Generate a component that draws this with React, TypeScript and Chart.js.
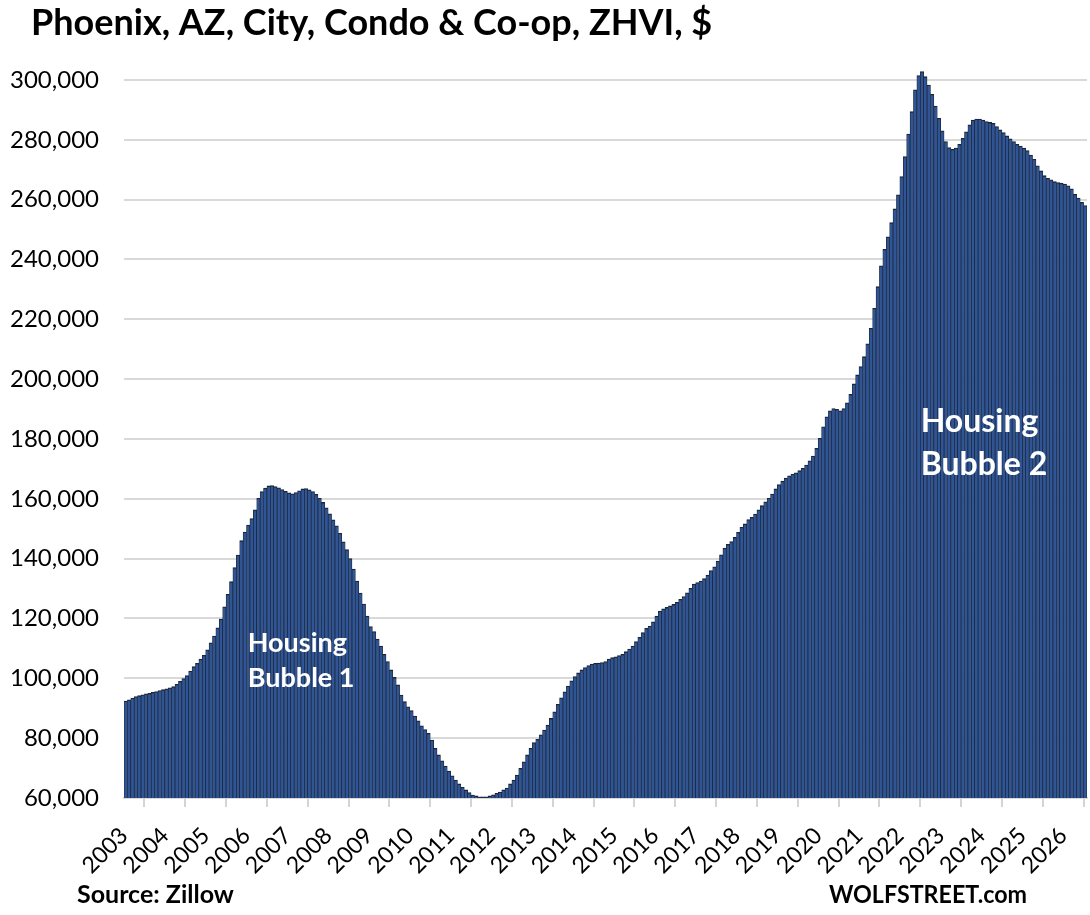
import React, { useEffect, useRef } from 'react';
import { Chart, registerables } from 'chart.js';

Chart.register(...registerables);

// ---------- text ----------
const TITLE = 'Phoenix, AZ, City, Condo & Co-op, ZHVI, $';
const SOURCE = 'Source: Zillow';
const BRAND = 'WOLFSTREET.com';
const bubble1Lines = ['Housing', 'Bubble 1'];
const bubble2Lines = ['Housing', 'Bubble 2'];

// ---------- data: monthly ZHVI ($), Jan 2003 .. Jul 2026 ----------
const FIRST_YEAR = 2003;
const zhvi2003 = [92400, 92800, 93400, 93900, 94200, 94500, 94800, 95000, 95300, 95600, 95900, 96200];
const zhvi2004 = [96500, 96800, 97200, 98000, 99000, 99900, 100900, 102400, 103900, 105000, 106400, 107700];
const zhvi2005 = [109500, 111900, 114100, 116900, 119800, 123900, 128100, 132300, 137000, 141200, 146000, 148900];
const zhvi2006 = [151200, 153400, 156300, 160200, 162400, 163600, 164300, 164400, 164100, 163700, 163100, 162500];
const zhvi2007 = [162000, 161700, 162100, 162700, 163300, 163400, 163000, 162400, 161500, 160200, 158800, 157000];
const zhvi2008 = [155000, 153000, 151000, 148500, 145600, 143000, 140000, 136500, 132500, 128500, 124800, 120800];
const zhvi2009 = [117300, 115600, 113100, 110800, 108000, 105600, 102800, 100300, 97800, 94400, 92200, 90500];
const zhvi2010 = [89200, 87400, 85800, 84100, 82900, 81600, 79400, 76600, 74400, 72400, 70700, 69000];
const zhvi2011 = [67400, 66000, 64700, 63600, 62700, 61800, 61000, 60700, 60400, 60400, 60400, 60700];
const zhvi2012 = [61100, 61600, 62000, 62700, 63300, 64700, 66000, 67700, 69900, 72100, 74400, 76600];
const zhvi2013 = [78500, 79600, 81100, 82700, 84400, 86600, 88800, 91300, 93500, 95500, 97400, 99200];
const zhvi2014 = [100600, 101800, 102800, 103600, 104300, 104800, 105000, 105100, 105300, 105600, 106400, 106900];
const zhvi2015 = [107200, 107600, 108000, 108900, 109800, 110800, 112300, 113700, 115300, 116700, 117500, 118900];
const zhvi2016 = [120800, 122500, 123200, 123700, 124200, 124700, 125400, 126400, 127300, 128600, 130100, 131500];
const zhvi2017 = [132000, 132500, 133300, 134500, 136000, 137300, 139200, 141300, 143500, 144800, 145700, 147100];
const zhvi2018 = [148800, 150500, 151600, 153100, 153800, 154900, 156300, 157700, 159000, 160200, 161600, 163300];
const zhvi2019 = [164800, 165900, 166900, 167700, 168300, 168700, 169400, 170200, 171300, 172700, 174300, 176900];
const zhvi2020 = [180200, 184100, 187400, 189400, 190200, 189900, 189400, 190200, 192100, 194900, 198400, 201400];
const zhvi2021 = [204200, 207500, 211800, 217000, 223700, 230900, 237900, 243400, 247600, 252300, 256900, 261600];
const zhvi2022 = [267700, 274400, 281900, 289400, 296700, 301500, 302800, 301100, 298300, 295200, 291300, 287200];
const zhvi2023 = [283000, 279400, 277400, 276800, 277200, 278500, 280500, 282700, 285000, 286600, 286900, 286900];
const zhvi2024 = [286600, 286100, 285800, 285500, 284400, 283300, 282400, 281300, 280300, 279400, 278500, 277900];
const zhvi2025 = [277200, 276400, 274900, 273500, 271300, 269600, 268000, 267100, 266600, 266000, 265700, 265500];
const zhvi2026 = [265200, 264600, 263600, 261800, 260500, 259100, 258000];

const zhviValues = [
  ...zhvi2003, ...zhvi2004, ...zhvi2005, ...zhvi2006, ...zhvi2007, ...zhvi2008,
  ...zhvi2009, ...zhvi2010, ...zhvi2011, ...zhvi2012, ...zhvi2013, ...zhvi2014,
  ...zhvi2015, ...zhvi2016, ...zhvi2017, ...zhvi2018, ...zhvi2019, ...zhvi2020,
  ...zhvi2021, ...zhvi2022, ...zhvi2023, ...zhvi2024, ...zhvi2025, ...zhvi2026,
];

// axis ticks
const yTickValues = [60000, 80000, 100000, 120000, 140000, 160000, 180000, 200000, 220000, 240000, 260000, 280000, 300000];
const xTickYears = [
  2003, 2004, 2005, 2006, 2007, 2008, 2009, 2010, 2011, 2012, 2013, 2014,
  2015, 2016, 2017, 2018, 2019, 2020, 2021, 2022, 2023, 2024, 2025, 2026,
];
const Y_MIN = 60000;
const Y_MAX = 305000;

// annotation anchors (data coordinates: fractional year, value at first baseline)
const bubble1Anchor = { year: 2006.03, value: 108900 };
const bubble2Anchor = { year: 2022.51, value: 182400 };

const FONT = 'Lato, "Open Sans", sans-serif';

export default function App() {
  const canvasRef = useRef<HTMLCanvasElement | null>(null);

  useEffect(() => {
    const canvas = canvasRef.current;
    if (!canvas) return;

    const points = zhviValues.map((v, i) => ({ x: FIRST_YEAR + (i + 0.5) / 12, y: v }));
    const xMax = FIRST_YEAR + zhviValues.length / 12;

    const textPlugin = {
      id: 'wolfTexts',
      afterDraw(chart: any) {
        const { ctx, scales } = chart;
        const xs = scales.x;
        const ys = scales.y;
        ctx.save();
        ctx.textAlign = 'left';
        ctx.textBaseline = 'alphabetic';
        ctx.fillStyle = '#000';
        ctx.font = `bold 36px ${FONT}`;
        ctx.fillText(TITLE, 31, 35);
        ctx.font = `bold 25px ${FONT}`;
        ctx.fillText(SOURCE, 77, 903);
        ctx.font = `bold 25px ${FONT}`;
        ctx.fillText(BRAND, 829, 903, 198);

        ctx.fillStyle = '#fff';
        ctx.font = `bold 27px ${FONT}`;
        let px = xs.getPixelForValue(bubble1Anchor.year);
        let py = ys.getPixelForValue(bubble1Anchor.value);
        bubble1Lines.forEach((t, k) => ctx.fillText(t, px, py + k * 35));
        ctx.font = `bold 32px ${FONT}`;
        px = xs.getPixelForValue(bubble2Anchor.year);
        py = ys.getPixelForValue(bubble2Anchor.value);
        bubble2Lines.forEach((t, k) => ctx.fillText(t, px, py + k * 43));
        ctx.restore();
      },
    };

    const chart = new Chart(canvas, {
      type: 'bar',
      data: {
        datasets: [
          {
            data: points as any,
            backgroundColor: '#2f5597',
            borderColor: '#1c2636',
            borderWidth: { top: 1.3, left: 0.75, right: 0.75, bottom: 0 } as any,
            borderSkipped: 'start',
            barPercentage: 1,
            categoryPercentage: 1,
          },
        ],
      },
      options: {
        animation: false,
        responsive: false,
        devicePixelRatio: 1,
        layout: { padding: { left: 0, right: 3, top: 65, bottom: 0 } },
        plugins: {
          legend: { display: false },
          title: { display: false },
          tooltip: { enabled: false },
        },
        scales: {
          x: {
            type: 'linear',
            min: FIRST_YEAR,
            max: xMax,
            offset: false,
            afterBuildTicks: (scale: any) => {
              scale.ticks = xTickYears.map((v) => ({ value: v }));
            },
            ticks: {
              autoSkip: false,
              maxRotation: 45,
              minRotation: 45,
              padding: 15,
              color: '#000',
              font: { family: FONT, size: 23 },
              callback: (v: any) => String(v),
            },
            grid: {
              display: true,
              drawOnChartArea: false,
              drawTicks: true,
              tickLength: 9,
              color: '#d4d4d4',
              tickColor: '#d4d4d4',
              tickWidth: 2,
              lineWidth: 2,
            },
            border: { display: true, color: '#d9d9d9', width: 2 },
            afterFit: (scale: any) => {
              scale.height = 117;
              scale.paddingLeft = 0;
              scale.paddingRight = 0;
            },
          },
          y: {
            type: 'linear',
            min: Y_MIN,
            max: Y_MAX,
            afterBuildTicks: (scale: any) => {
              scale.ticks = yTickValues.map((v) => ({ value: v }));
            },
            ticks: {
              padding: 25,
              color: '#000',
              font: { family: FONT, size: 24 },
              callback: (v: any) => Number(v).toLocaleString('en-US'),
            },
            grid: {
              color: '#d9d9d9',
              lineWidth: 2,
              drawTicks: false,
            },
            border: { display: false },
            afterFit: (scale: any) => {
              scale.width = 124;
              scale.paddingTop = 0;
              scale.paddingBottom = 0;
            },
          },
        },
      } as any,
      plugins: [textPlugin],
    });

    return () => chart.destroy();
  }, []);

  return (
    <div style={{ position: 'absolute', left: 0, top: 0, width: 1090, height: 915, background: '#fff' }}>
      <canvas ref={canvasRef} width={1090} height={915} style={{ display: 'block' }} />
    </div>
  );
}
